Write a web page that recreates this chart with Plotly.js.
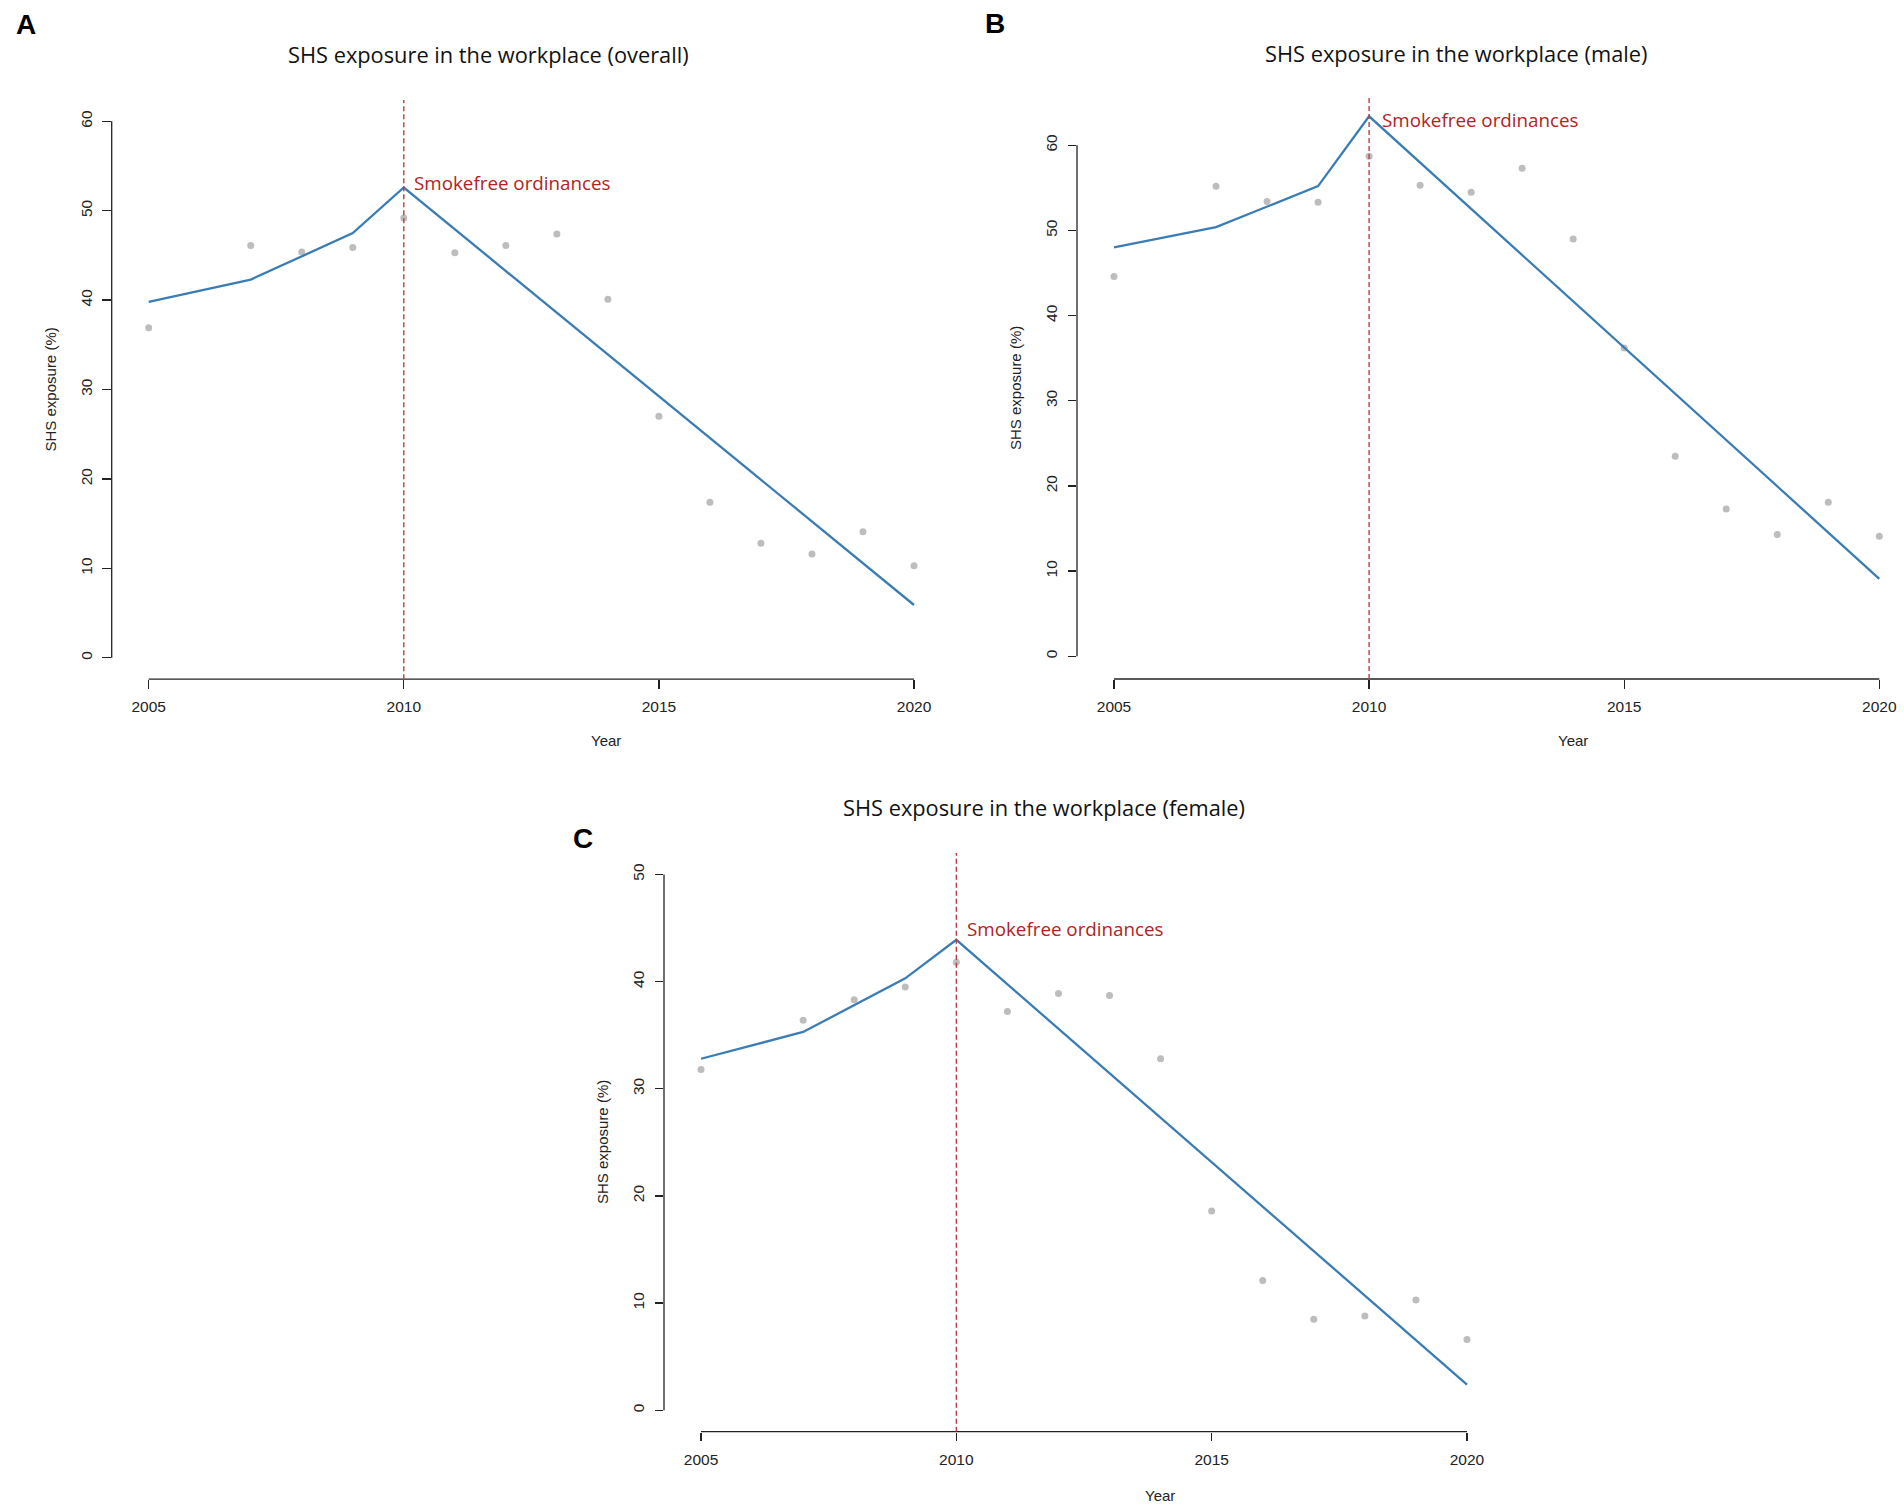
<!DOCTYPE html>
<html>
<head>
<meta charset="utf-8">
<script src="https://cdn.plot.ly/plotly-3.0.1.min.js"></script>
<style>html,body{margin:0;padding:0;background:#fff;}#chart{width:1904px;height:1508px;}</style>
</head>
<body>
<div id="chart"></div>
<script>
// ---- data ----
const obsYears = [2005, 2007, 2008, 2009, 2010, 2011, 2012, 2013, 2014, 2015, 2016, 2017, 2018, 2019, 2020];
const overallObs = [36.9, 46.1, 45.4, 45.9, 49.2, 45.3, 46.1, 47.4, 40.1, 27.0, 17.4, 12.8, 11.6, 14.1, 10.3];
const maleObs    = [44.6, 55.2, 53.4, 53.3, 58.7, 55.3, 54.5, 57.3, 49.0, 36.2, 23.5, 17.3, 14.3, 18.1, 14.1];
const femaleObs  = [31.8, 36.4, 38.3, 39.5, 41.8, 37.2, 38.9, 38.7, 32.8, 18.6, 12.1, 8.5, 8.8, 10.3, 6.6];

const fitYears = [2005, 2007, 2009, 2010, 2020];
const overallFit = [39.8, 42.3, 47.5, 52.6, 5.9];
const maleFit    = [48.0, 50.4, 55.2, 63.4, 9.1];
const femaleFit  = [32.8, 35.3, 40.3, 43.9, 2.4];

const xTicks = [2005, 2010, 2015, 2020];
const yTicksA = [0, 10, 20, 30, 40, 50, 60];
const yTicksB = [0, 10, 20, 30, 40, 50, 60];
const yTicksC = [0, 10, 20, 30, 40, 50];
const interventionYear = 2010;
const interventionLabel = "Smokefree ordinances";
const panelTitles = ["SHS exposure in the workplace (overall)", "SHS exposure in the workplace (male)", "SHS exposure in the workplace (female)"];
const panelLetters = ["A", "B", "C"];
const xLabel = "Year";
const yLabel = "SHS exposure (%)";

// ---- styles ----
const W = 1904, H = 1508;
const lineColor = "#3A7DB5";
const dotColor = "#BDBDBD";
const refColor = "#C43A3A";
const labelColor = "#B22222";
const tickFont = {family: "Liberation Sans, Arial, sans-serif", size: 15.5, color: "#222"};
const titleFont = {family: "Open Sans, Noto Sans, sans-serif", size: 21.8, color: "#111"};

const panels = [
  {obs: overallObs, fit: overallFit, yTicks: yTicksA, xs: "x", ys: "y", xa: "xaxis", ya: "yaxis",
   xdom: [111.7, 951], ydom: [679.2, 99.9], xr: [2004.275, 2020.725], yr: [-2.4, 62.4],
   title: [489, 54.6], year: [606, 740.6], letter: [25.5, 25], ytitle: [50, 389.5], lab: {y: 53.06, xs: 8}},
  {obs: maleObs, fit: maleFit, yTicks: yTicksB, xs: "x2", ys: "y2", xa: "xaxis2", ya: "yaxis2",
   xdom: [1077, 1904], ydom: [679, 97], xr: [2004.275, 2020.484], yr: [-2.665, 65.67],
   title: [1456, 53], year: [1573, 740], letter: [994.5, 24], ytitle: [1015, 388], lab: {y: 63.0, xs: 11}},
  {obs: femaleObs, fit: femaleFit, yTicks: yTicksC, xs: "x3", ys: "y3", xa: "xaxis3", ya: "yaxis3",
   xdom: [664, 1504], ydom: [1431.7, 853], xr: [2004.275, 2020.725], yr: [-2, 52],
   title: [1044, 807.7], year: [1160, 1495.8], letter: [582.6, 838.7], ytitle: [602, 1142], lab: {y: 44.9, xs: 9}}
];

const traces = [];
const shapes = [];
const annotations = [];
const layout = {
  width: W, height: H, margin: {l: 0, r: 0, t: 0, b: 0},
  paper_bgcolor: "#fff", plot_bgcolor: "#fff", showlegend: false
};

panels.forEach((p, i) => {
  traces.push({x: obsYears, y: p.obs, xaxis: p.xs, yaxis: p.ys, type: "scatter", mode: "markers",
    marker: {color: dotColor, size: 7}, hoverinfo: "x+y"});
  traces.push({x: fitYears, y: p.fit, xaxis: p.xs, yaxis: p.ys, type: "scatter", mode: "lines",
    line: {color: lineColor, width: 2.3}, hoverinfo: "x+y"});

  layout[p.xa] = {
    domain: [p.xdom[0] / W, p.xdom[1] / W], range: p.xr, anchor: p.ys,
    tickvals: xTicks, ticktext: xTicks.map(String), ticks: "outside", ticklen: 8.5, tickwidth: 1.3, tickcolor: "#222",
    showgrid: false, zeroline: false, showline: false, tickfont: tickFont, ticklabelstandoff: 5, fixedrange: true
  };
  layout[p.ya] = {
    domain: [1 - p.ydom[0] / H, 1 - p.ydom[1] / H], range: p.yr, anchor: p.xs,
    tickvals: p.yTicks, ticktext: p.yTicks.map(String), ticks: "outside", ticklen: 8.5, tickwidth: 1.3, tickcolor: "#222",
    tickangle: -90, showgrid: false, zeroline: false, showline: false, tickfont: tickFont, ticklabelstandoff: 4, fixedrange: true
  };

  // detached R-style axis lines spanning the tick range
  shapes.push({type: "line", xref: p.xs + " domain", yref: p.ys, x0: 0, x1: 0,
    y0: p.yTicks[0], y1: p.yTicks[p.yTicks.length - 1], line: {color: "#222", width: 1.3}});
  shapes.push({type: "line", xref: p.xs, yref: p.ys + " domain", y0: 0, y1: 0,
    x0: xTicks[0], x1: xTicks[xTicks.length - 1], line: {color: "#222", width: 1.3}});
  // intervention line
  shapes.push({type: "line", xref: p.xs, yref: p.ys + " domain", x0: interventionYear, x1: interventionYear,
    y0: 0, y1: 1, line: {color: refColor, width: 1.4, dash: "5px,3px"}});

  annotations.push({xref: p.xs, yref: p.ys, x: interventionYear, y: p.lab.y, xanchor: "left", yanchor: "middle",
    xshift: p.lab.xs, text: interventionLabel, showarrow: false,
    font: {family: "Open Sans, Noto Sans, sans-serif", size: 18.8, color: labelColor}});
  annotations.push({xref: "paper", yref: "paper", x: p.title[0] / W, y: 1 - p.title[1] / H, xanchor: "center", yanchor: "middle",
    text: panelTitles[i], showarrow: false, font: titleFont});
  annotations.push({xref: "paper", yref: "paper", x: p.year[0] / W, y: 1 - p.year[1] / H, xanchor: "center", yanchor: "middle",
    text: xLabel, showarrow: false, font: {family: "Liberation Sans, Arial, sans-serif", size: 15, color: "#222"}});
  annotations.push({xref: "paper", yref: "paper", x: p.ytitle[0] / W, y: 1 - p.ytitle[1] / H, xanchor: "center", yanchor: "middle",
    text: yLabel, textangle: -90, showarrow: false, font: {family: "Liberation Sans, Arial, sans-serif", size: 15, color: "#222"}});
  annotations.push({xref: "paper", yref: "paper", x: p.letter[0] / W, y: 1 - p.letter[1] / H, xanchor: "center", yanchor: "middle",
    text: "<b>" + panelLetters[i] + "</b>", showarrow: false, font: {family: "Liberation Sans, Arial, sans-serif", size: 28, color: "#000"}});
});

layout.shapes = shapes;
layout.annotations = annotations;

Plotly.newPlot("chart", traces, layout, {displayModeBar: false, staticPlot: true});
</script>
</body>
</html>
